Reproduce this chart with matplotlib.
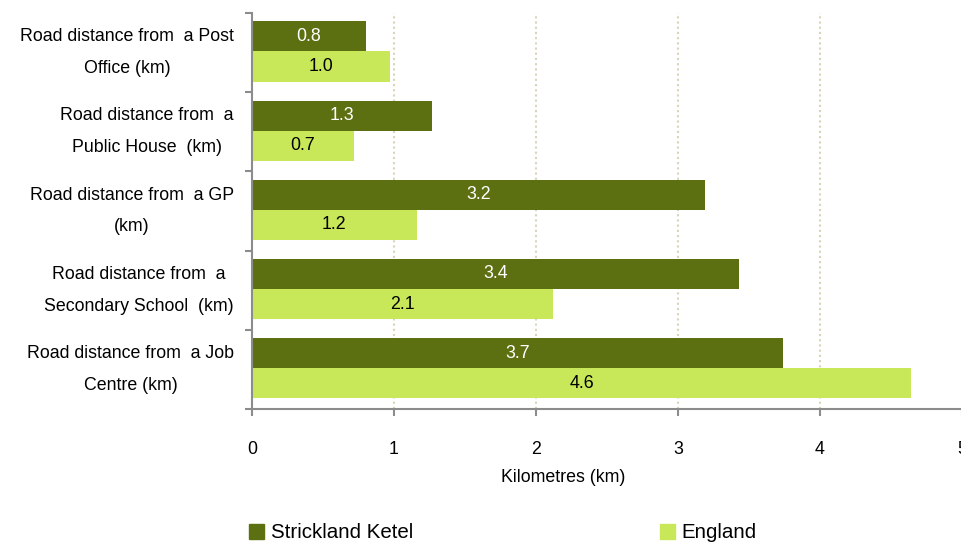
import matplotlib
matplotlib.use("Agg")
import matplotlib.pyplot as plt
import numpy as np
from matplotlib.patches import Patch

plt.rcParams['font.family'] = ['Liberation Sans', 'DejaVu Sans']

categories = [
    "Road distance from  a Post\nOffice (km)",
    "Road distance from  a\nPublic House  (km)",
    "Road distance from  a GP\n(km)",
    "Road distance from  a\nSecondary School  (km)",
    "Road distance from  a Job\nCentre (km)",
]
local_values = [0.80, 1.27, 3.19, 3.43, 3.74]
england_values = [0.97, 0.72, 1.16, 2.12, 4.64]
series_names = ["Strickland Ketel", "England"]
x_ticks = [0, 1, 2, 3, 4, 5]

dark = "#5C7012"
light = "#C8E85A"
axis_col = "#8C8C8C"
fs = 12.8

fig = plt.figure(figsize=(9.61, 5.42), dpi=100)
ax = fig.add_axes([252/961, 1-409/542, 710/961, 396/542])

y = np.arange(len(categories))
h = 0.38
ax.barh(y - h/2 - 0.015, local_values, height=h, color=dark)
ax.barh(y + h/2 - 0.015, england_values, height=h, color=light)

for v, yy in zip(local_values, y):
    ax.text(v/2, yy - h/2 - 0.015, f"{v:.1f}", ha='center', va='center', color='white', fontsize=fs)
for v, yy in zip(england_values, y):
    ax.text(v/2, yy + h/2 - 0.015, f"{v:.1f}", ha='center', va='center', color='black', fontsize=fs)

ax.set_xlim(0, 5)
ax.set_ylim(len(categories) - 0.5, -0.5)
ax.set_xticks(x_ticks)
ax.set_xticklabels([str(t) for t in x_ticks], fontsize=fs)
ax.tick_params(axis='x', length=5, width=1.5, color=axis_col, pad=18)

ax.set_yticks(y)
ax.set_yticklabels(categories, fontsize=fs, multialignment='center', linespacing=2.15, va='center')
ax.tick_params(axis='y', which='major', length=0, pad=13)
ax.set_yticks(np.arange(-0.5, len(categories)), minor=True)
ax.tick_params(axis='y', which='minor', length=5, width=1.5, color=axis_col)

for s in ['top', 'right']:
    ax.spines[s].set_visible(False)
for s in ['left', 'bottom']:
    ax.spines[s].set_color(axis_col)
    ax.spines[s].set_linewidth(1.5)

for t in [1, 2, 3, 4]:
    ax.axvline(t, color="#D9D3B8", linestyle=(0, (1, 1.5)), linewidth=1.5, zorder=0)

ax.set_xlabel("Kilometres (km)", fontsize=fs, labelpad=8)
ax.xaxis.set_label_coords((563-252)/710, -(477-409)/396, transform=ax.transAxes)
ax.xaxis.label.set_va('center')

handles = [Patch(color=dark), Patch(color=light)]
fig.legend(handles, series_names, loc='center left', bbox_to_anchor=(249/961, 1-533/542),
           ncol=2, frameon=False, fontsize=14.8, handlelength=0.75, handleheight=0.75,
           handletextpad=0.3, columnspacing=12.0, borderaxespad=0, borderpad=0)

fig.savefig("out.png", dpi=100)
